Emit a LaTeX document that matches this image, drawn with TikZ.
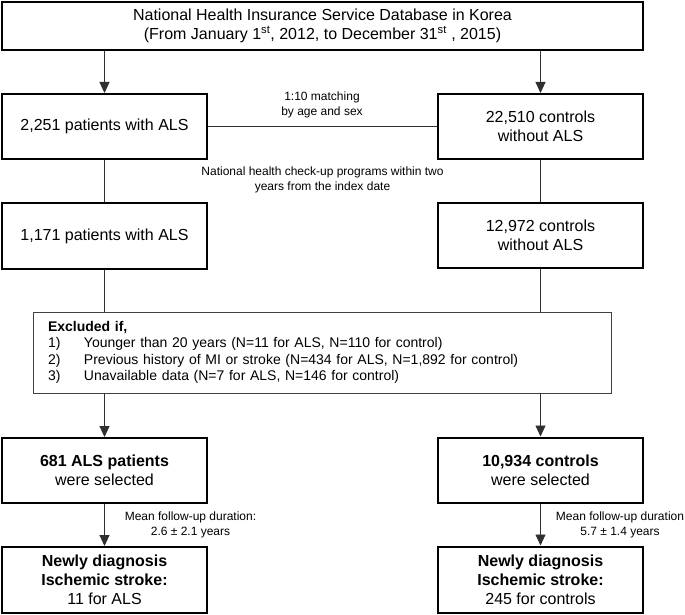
\documentclass[tikz,border=0pt]{standalone}
\usepackage{fontspec}
\setmainfont{Liberation Sans}
\usetikzlibrary{arrows.meta}

\begin{document}
\begin{tikzpicture}[x=1pt, y=-1pt, line width=0.9pt,
    mainbox/.style={draw=black, line width=2pt, minimum width=205pt, minimum height=65pt, align=center, inner sep=2pt, font=\fontsize{16}{19}\selectfont},
    exclbox/.style={draw=exclcolor, line width=0.9pt, minimum width=578pt, minimum height=81pt, text width=548pt, inner xsep=15pt, align=left, font=\fontsize{14}{16.5}\selectfont},
    smalltxt/.style={align=center, inner sep=0pt, font=\fontsize{12}{15}\selectfont},
    flow/.style={draw=linecolor, -{Triangle[width=10pt,length=11pt]}},
    link/.style={draw=linecolor}]
    \definecolor{linecolor}{HTML}{303030}
    \definecolor{exclcolor}{HTML}{404040}

    \useasboundingbox (0,0) rectangle (685,615);

    \node[mainbox, minimum width=641pt, minimum height=48pt] (db) at (322.5,26) {National Health Insurance Service Database in Korea\\(From January 1\textsuperscript{st}, 2012, to December 31\textsuperscript{st} , 2015)};

    \node[mainbox] (alsA) at (104.5,126.5) {2,251 patients with ALS};
    \node[mainbox] (ctlA) at (540.5,126.5) {22,510 controls\\without ALS};
    \node[mainbox, minimum height=66pt] (alsB) at (104.5,236) {1,171 patients with ALS};
    \node[mainbox] (ctlB) at (540.5,235.5) {12,972 controls\\without ALS};

    \node[exclbox] (excl) at (322,352.5) {\textbf{Excluded if,}\\
        \makebox[36pt][l]{1)}Younger than 20 years (N=11 for ALS, N=110 for control)\\
        \makebox[36pt][l]{2)}Previous history of MI or stroke (N=434 for ALS, N=1,892 for control)\\
        \makebox[36pt][l]{3)}Unavailable data (N=7 for ALS, N=146 for control)};

    \node[mainbox] (alsC) at (104.5,470.5) {\textbf{681 ALS patients}\\were selected};
    \node[mainbox] (ctlC) at (540.5,470) {\textbf{10,934 controls}\\were selected};
    \node[mainbox, minimum height=66pt] (alsD) at (104.5,580) {\textbf{Newly diagnosis}\\\textbf{Ischemic stroke:}\\11 for ALS};
    \node[mainbox, minimum height=66pt] (ctlD) at (540.5,579.5) {\textbf{Newly diagnosis}\\\textbf{Ischemic stroke:}\\245 for controls};

    % labels on the connectors
    \node[smalltxt] (matchlbl) at (322,104.5) {1:10 matching\\by age and sex};
    \node[smalltxt] (checklbl) at (322.5,180) {National health check-up programs within two\\years from the index date};
    \node[smalltxt] (fuA) at (190.5,524.5) {Mean follow-up duration:\\2.6 ± 2.1 years};
    \node[smalltxt] (fuB) at (620,524.5) {Mean follow-up duration\\5.7 ± 1.4 years};

    \draw[flow] (db.south -| alsA.north) -- (alsA.north);
    \draw[flow] (db.south -| ctlA.north) -- (ctlA.north);
    \draw[link] (alsA.east) -- (ctlA.west);
    \draw[link] (alsA.south) -- (alsB.north);
    \draw[link] (ctlA.south) -- (ctlB.north);
    \draw[link] (alsB.south) -- (alsB.south |- excl.north);
    \draw[link] (ctlB.south) -- (ctlB.south |- excl.north);
    \draw[flow] (excl.south -| alsC.north) -- (alsC.north);
    \draw[flow] (excl.south -| ctlC.north) -- (ctlC.north);
    \draw[flow] (alsC.south) -- (alsD.north);
    \draw[flow] (ctlC.south) -- (ctlD.north);
\end{tikzpicture}
\end{document}
